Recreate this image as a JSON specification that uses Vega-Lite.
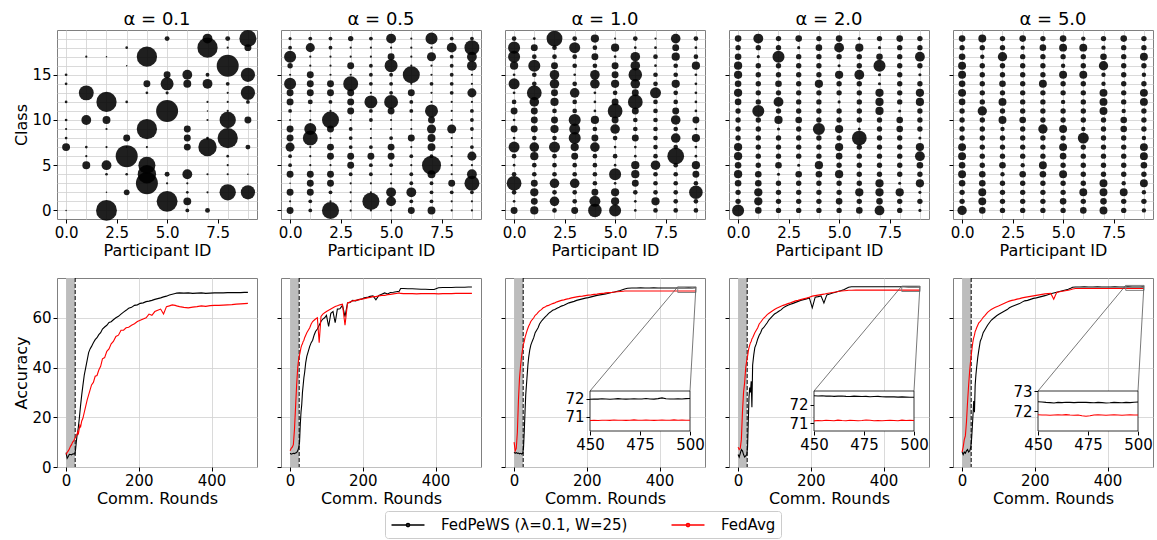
{
"$schema": "https://vega.github.io/schema/vega-lite/v6.json",
"background": "white",
"padding": {"left": 13, "top": 10, "right": 0, "bottom": 0},
"config": {
 "font": "DejaVu Sans",
 "view": {"stroke": "#808080", "strokeWidth": 1},
 "axis": {"labelFont": "DejaVu Sans", "titleFont": "DejaVu Sans", "labelFontSize": 15, "titleFontSize": 16, "titleFontWeight": "normal", "labelColor": "#000", "titleColor": "#000", "tickColor": "#000", "tickSize": 4, "tickWidth": 1, "labelPadding": 2, "titlePadding": 2, "domain": false, "gridColor": "#d0d0d0", "gridWidth": 0.8, "labelFlush": false, "labelOverlap": false},
 "title": {"font": "DejaVu Sans", "fontSize": 18, "fontWeight": "normal", "color": "#000", "offset": 1},
 "legend": {"orient": "none", "legendX": 328, "legendY": 481, "direction": "horizontal", "symbolType": "M-2,0L2,0M0.2,0A0.2,0.2,0,1,1,-0.2,0A0.2,0.2,0,1,1,0.2,0", "symbolSize": 272, "symbolOffset": 9, "symbolStrokeWidth": 1.3, "labelFont": "DejaVu Sans", "labelFontSize": 15, "labelColor": "#000", "labelOffset": 24, "labelLimit": 400, "columnPadding": 40, "padding": 5, "strokeColor": "#cccccc", "cornerRadius": 3, "fillColor": "#ffffff"}
},
"datasets": {
 "bub": [
  {"p":"0.1","pid":0,"c":[0,1,2,3,4,5,6,7,8,9,10,11,12,13,14,15,16,17,18,19],"n":[0.5,0,0,0,0,0,0,13,1.5,1,1.5,0,1.5,0,1.5,1.5,0,0,0,0]},
  {"p":"0.1","pid":1,"c":[0,1,2,3,4,5,6,7,8,9,10,11,12,13,14,15,16,17,18,19],"n":[0,0,0,0,0,13,1,1.5,0,0,20,0,0,46,0,0,0,1,0,0]},
  {"p":"0.1","pid":2,"c":[0,1,2,3,4,5,6,7,8,9,10,11,12,13,14,15,16,17,18,19],"n":[90,0,0.5,0,1.5,20,0,1,0,1,13,0,85,0,0,0,0,0.5,0,0]},
  {"p":"0.1","pid":3,"c":[0,1,2,3,4,5,6,7,8,9,10,11,12,13,14,15,16,17,18,19],"n":[0,0,7,0,1.5,0,100,0.5,10,0,0,0,1.5,0,0,0,0.5,0,1.5,0]},
  {"p":"0.1","pid":4,"c":[0,1,2,3,4,5,6,7,8,9,10,11,12,13,14,15,16,17,18,19],"n":[0,0,0,100,70,60,0,1,0,85,0,0,0,1.5,10,0,0,85,0,0]},
  {"p":"0.1","pid":5,"c":[0,1,2,3,4,5,6,7,8,9,10,11,12,13,14,15,16,17,18,19],"n":[0,90,0,1,5,0,0,0,0,0,0,100,0,2,35,10,0,0,0,5]},
  {"p":"0.1","pid":6,"c":[0,1,2,3,4,5,6,7,8,9,10,11,12,13,14,15,16,17,18,19],"n":[3,13,1.5,1,20,0,0,10,10,10,0,0,0,0,13,20,0,0,0,0]},
  {"p":"0.1","pid":7,"c":[0,1,2,3,4,5,6,7,8,9,10,11,12,13,14,15,16,17,18,19],"n":[5,0,1,0,1,0,0,70,1.5,0,1,0.5,1,0,20,3,0,0,85,20]},
  {"p":"0.1","pid":8,"c":[0,1,2,3,4,5,6,7,8,9,10,11,12,13,14,15,16,17,18,19],"n":[0,0,55,0,1,1,1.5,0,85,0,55,1,1,1,3,0,100,0,1,5]},
  {"p":"0.1","pid":9,"c":[0,1,2,3,4,5,6,7,8,9,10,11,12,13,14,15,16,17,18,19],"n":[0,0,42,0,0.5,0,0,5,0,0,10,0,3,42,0,42,0,0,10,60]},
  {"p":"0.5","pid":0,"c":[0,1,2,3,4,5,6,7,8,9,10,11,12,13,14,15,16,17,18,19],"n":[10,1,10,0.5,10,3,3,17,10,10,1,3,10,10,30,1,6,30,3,2]},
  {"p":"0.5","pid":1,"c":[0,1,2,3,4,5,6,7,8,9,10,11,12,13,14,15,16,17,18,19],"n":[3,3,10,10,10,1,1,1,46,30,1,1,5,10,10,10,1,1,17,3]},
  {"p":"0.5","pid":2,"c":[0,1,2,3,4,5,6,7,8,9,10,11,12,13,14,15,16,17,18,19],"n":[60,1,3,10,10,1,10,10,1,10,60,1,3,10,10,1,1,1,3,3]},
  {"p":"0.5","pid":3,"c":[0,1,2,3,4,5,6,7,8,9,10,11,12,13,14,15,16,17,18,19],"n":[1,1,1,1,3,10,10,3,3,3,1,10,10,10,46,1,10,1,1,6]},
  {"p":"0.5","pid":4,"c":[0,1,2,3,4,5,6,7,8,9,10,11,12,13,14,15,16,17,18,19],"n":[1,60,1,1,3,3,10,3,1,1,3,3,35,1,3,3,3,1,1,3]},
  {"p":"0.5","pid":5,"c":[0,1,2,3,4,5,6,7,8,9,10,11,12,13,14,15,16,17,18,19],"n":[1,20,20,1,1,3,10,10,3,1,1,10,40,3,3,3,35,10,1,20]},
  {"p":"0.5","pid":6,"c":[0,1,2,3,4,5,6,7,8,9,10,11,12,13,14,15,16,17,18,19],"n":[10,3,20,3,3,1,3,1,10,1,1,3,3,10,1,60,1,1,1,1]},
  {"p":"0.5","pid":7,"c":[0,1,2,3,4,5,6,7,8,9,10,11,12,13,14,15,16,17,18,19],"n":[13,3,3,3,13,75,3,13,13,17,10,35,1,1,3,1,1,17,1,30]},
  {"p":"0.5","pid":8,"c":[0,1,2,3,4,5,6,7,8,9,10,11,12,13,14,15,16,17,18,19],"n":[1,1,3,10,1,1,1,1,1,17,1,1,1,3,3,3,3,3,20,3]},
  {"p":"0.5","pid":9,"c":[0,1,2,3,4,5,6,7,8,9,10,11,12,13,14,15,16,17,18,19],"n":[1,1,3,46,20,1,17,3,1,3,3,3,1,17,1,1,20,20,46,3]},
  {"p":"1.0","pid":0,"c":[0,1,2,3,4,5,6,7,8,9,10,11,12,13,14,15,16,17,18,19],"n":[10,1.5,4.5,45,4.5,1.5,4.5,25,1.5,10,1.5,10,4.5,1.5,25,1.5,14,30,30,4.5]},
  {"p":"1.0","pid":1,"c":[0,1,2,3,4,5,6,7,8,9,10,11,12,13,14,15,16,17,18,19],"n":[14,10,14,10,4.5,4.5,14,19,4.5,10,10,10,19,45,4.5,4.5,30,4.5,10,1.5]},
  {"p":"1.0","pid":2,"c":[0,1,2,3,4,5,6,7,8,9,10,11,12,13,14,15,16,17,18,19],"n":[4.5,19,4.5,19,4.5,4.5,4.5,25,4.5,14,10,4.5,14,10,19,19,10,4.5,4.5,52]},
  {"p":"1.0","pid":3,"c":[0,1,2,3,4,5,6,7,8,9,10,11,12,13,14,15,16,17,18,19],"n":[10,4.5,4.5,19,4.5,4.5,10,14,30,25,30,4.5,4.5,19,4.5,1.5,4.5,4.5,25,4.5]},
  {"p":"1.0","pid":4,"c":[0,1,2,3,4,5,6,7,8,9,10,11,12,13,14,15,16,17,18,19],"n":[38,25,10,4.5,4.5,4.5,4.5,19,10,4.5,14,1.5,1.5,1.5,19,19,4.5,10,4.5,14]},
  {"p":"1.0","pid":5,"c":[0,1,2,3,4,5,6,7,8,9,10,11,12,13,14,15,16,17,18,19],"n":[30,14,14,1.5,30,1.5,4.5,1.5,4.5,19,10,45,10,4.5,14,10,10,1.5,14,1]},
  {"p":"1.0","pid":6,"c":[0,1,2,3,4,5,6,7,8,9,10,11,12,13,14,15,16,17,18,19],"n":[1.5,1.5,4.5,10,14,14,1.5,1.5,10,4.5,4.5,10,45,10,19,38,19,19,1.5,4.5]},
  {"p":"1.0","pid":7,"c":[0,1,2,3,4,5,6,7,8,9,10,11,12,13,14,15,16,17,18,19],"n":[4.5,14,4.5,4.5,4.5,19,4.5,4.5,4.5,4.5,4.5,4.5,4.5,25,4.5,4.5,1.5,4.5,1.5,1]},
  {"p":"1.0","pid":8,"c":[0,1,2,3,4,5,6,7,8,9,10,11,12,13,14,15,16,17,18,19],"n":[4.5,4.5,4.5,4.5,4.5,4.5,58,4.5,19,4.5,19,10,4.5,4.5,14,4.5,4.5,14,10,19]},
  {"p":"1.0","pid":9,"c":[0,1,2,3,4,5,6,7,8,9,10,11,12,13,14,15,16,17,18,19],"n":[4.5,4.5,38,4.5,10,14,1.5,1.5,14,1.5,10,1.5,1.5,1.5,1.5,1.5,14,4.5,1.5,4.5]},
  {"p":"2.0","pid":0,"c":[0,1,2,3,4,5,6,7,8,9,10,11,12,13,14,15,16,17,18,19],"n":[30,6,6,9,14,9,14,14,6,6,6,6,9,14,9,14,14,9,6,9]},
  {"p":"2.0","pid":1,"c":[0,1,2,3,4,5,6,7,8,9,10,11,12,13,14,15,16,17,18,19],"n":[9,14,14,9,9,6,6,6,6,6,6,30,6,6,6,6,6,2,6,20]},
  {"p":"2.0","pid":2,"c":[0,1,2,3,4,5,6,7,8,9,10,11,12,13,14,15,16,17,18,19],"n":[6,6,6,6,2,9,6,6,6,2,14,6,20,6,9,6,6,30,6,6]},
  {"p":"2.0","pid":3,"c":[0,1,2,3,4,5,6,7,8,9,10,11,12,13,14,15,16,17,18,19],"n":[6,6,6,6,9,2,6,6,6,6,9,6,6,6,6,6,6,6,2,9]},
  {"p":"2.0","pid":4,"c":[0,1,2,3,4,5,6,7,8,9,10,11,12,13,14,15,16,17,18,19],"n":[6,6,6,6,9,14,6,6,6,30,6,6,6,6,14,6,6,6,9,6]},
  {"p":"2.0","pid":5,"c":[0,1,2,3,4,5,6,7,8,9,10,11,12,13,14,15,16,17,18,19],"n":[6,9,6,6,14,6,9,14,6,14,6,6,2,6,6,14,2,6,20,9]},
  {"p":"2.0","pid":6,"c":[0,1,2,3,4,5,6,7,8,9,10,11,12,13,14,15,16,17,18,19],"n":[9,6,14,6,6,6,6,6,45,2,6,6,6,6,6,20,6,6,14,2]},
  {"p":"2.0","pid":7,"c":[0,1,2,3,4,5,6,7,8,9,10,11,12,13,14,15,16,17,18,19],"n":[20,9,14,14,6,6,6,6,6,6,6,14,14,14,2,2,30,9,2,6]},
  {"p":"2.0","pid":8,"c":[0,1,2,3,4,5,6,7,8,9,10,11,12,13,14,15,16,17,18,19],"n":[6,6,14,2,6,6,6,6,6,9,9,2,6,6,6,6,6,6,6,9]},
  {"p":"2.0","pid":9,"c":[0,1,2,3,4,5,6,7,8,9,10,11,12,13,14,15,16,17,18,19],"n":[2,6,2,14,6,9,20,14,2,6,6,6,14,14,6,2,6,20,6,6]},
  {"p":"5.0","pid":0,"c":[0,1,2,3,4,5,6,7,8,9,10,11,12,13,14,15,16,17,18,19],"n":[18,6,6,9,13,9,13,13,6,6,6,6,9,13,9,13,13,9,6,9]},
  {"p":"5.0","pid":1,"c":[0,1,2,3,4,5,6,7,8,9,10,11,12,13,14,15,16,17,18,19],"n":[9,13,13,9,9,6,6,6,6,6,6,18,6,6,6,6,6,4,6,13]},
  {"p":"5.0","pid":2,"c":[0,1,2,3,4,5,6,7,8,9,10,11,12,13,14,15,16,17,18,19],"n":[6,6,6,6,4,9,6,6,6,4,13,6,13,6,9,6,6,18,6,6]},
  {"p":"5.0","pid":3,"c":[0,1,2,3,4,5,6,7,8,9,10,11,12,13,14,15,16,17,18,19],"n":[6,6,6,6,9,4,6,6,6,6,9,6,6,6,6,6,6,6,4,9]},
  {"p":"5.0","pid":4,"c":[0,1,2,3,4,5,6,7,8,9,10,11,12,13,14,15,16,17,18,19],"n":[6,6,6,6,9,13,6,6,6,18,6,6,6,6,13,6,6,6,9,6]},
  {"p":"5.0","pid":5,"c":[0,1,2,3,4,5,6,7,8,9,10,11,12,13,14,15,16,17,18,19],"n":[6,9,6,6,13,6,9,13,6,13,6,6,4,6,6,13,4,6,13,9]},
  {"p":"5.0","pid":6,"c":[0,1,2,3,4,5,6,7,8,9,10,11,12,13,14,15,16,17,18,19],"n":[9,6,13,6,6,6,6,6,25,4,6,6,6,6,6,13,6,6,13,4]},
  {"p":"5.0","pid":7,"c":[0,1,2,3,4,5,6,7,8,9,10,11,12,13,14,15,16,17,18,19],"n":[13,9,13,13,6,6,6,6,6,6,6,13,13,13,4,4,18,9,4,6]},
  {"p":"5.0","pid":8,"c":[0,1,2,3,4,5,6,7,8,9,10,11,12,13,14,15,16,17,18,19],"n":[6,6,13,4,6,6,6,6,6,9,9,4,6,6,6,6,6,6,6,9]},
  {"p":"5.0","pid":9,"c":[0,1,2,3,4,5,6,7,8,9,10,11,12,13,14,15,16,17,18,19],"n":[4,6,4,13,6,9,13,13,4,6,6,6,13,13,6,4,6,13,6,6]}
 ],
 "acc": [
  {"p":"0.1","s":"FedPeWS (λ=0.1, W=25)","r":[0,3,6,9,12,15,18,21,24,26,28,30,32,34,36,38,40,43,46,50,54,58,62,66,70,75,80,85,90,95,100,106,112,118,124,130,137,144,151,158,165,172,180,188,196,204,212,220,228,236,244,252,260,268,276,284,292,300,304,312,324,336,348,360,372,384,396,408,420,432,444,456,468,480,490,500],"a":[5.8,3.5,4.2,5.1,5.0,4.9,5.2,5.3,5.2,7,10,12.5,14,16.5,19,22,25,29,32.5,37,40,43,46,47.5,48.5,50,51.2,52,53.2,54,55.5,56.3,57,58.1,58.4,59.2,60,60.6,61.5,62.3,63,63.8,64.2,65,65.2,65.8,66,66.5,66.7,67,67.4,67.7,68,68.4,68.7,69.2,69.5,69.8,69.9,70,69.9,70,69.8,69.9,70,69.8,69.9,70,70,70,70.1,70.1,70.1,70.1,70.2,70.2]},
  {"p":"0.1","s":"FedAvg","r":[0,3,6,9,12,15,18,21,24,26,28,30,32,34,36,38,40,43,46,50,54,58,62,66,70,75,80,85,90,95,100,106,112,118,124,130,137,144,151,158,165,172,180,188,196,204,212,220,228,236,244,252,260,268,276,284,292,300,304,312,324,336,348,360,372,384,396,408,420,432,444,456,468,480,490,500],"a":[5,5.8,6.5,7.2,8.3,9,10,10.5,11.5,12,12.8,13,14.2,13.5,15.2,16.8,16.2,18.5,19.5,22,24.5,27,29,31,33,34,36.5,36.8,39,40.5,43.5,44,46.5,47.5,49.5,50.5,52.5,53,55,55,56,56.2,57,57.6,58.5,59,59.5,60,61.5,61,62.5,63,63.5,61.5,64.5,64.8,65.2,65,64.8,64.5,64.2,64,64.3,64.5,64.8,64.6,64.9,65,65,65.1,65.2,65.3,65.5,65.6,65.7,65.8]},
  {"p":"0.5","s":"FedPeWS (λ=0.1, W=25)","r":[0,3,6,9,12,15,18,21,24,26,28,30,32,34,36,38,40,43,46,50,54,58,62,66,70,75,80,85,90,95,100,106,112,118,124,130,137,144,151,158,165,172,180,188,196,204,212,220,228,236,244,252,260,268,276,284,292,300,304,312,324,336,348,360,372,384,396,408,420,432,444,456,468,480,490,500],"a":[5.5,5.2,5.3,5.5,5.4,5.6,5.8,6.5,8,10,17,22,25,30,33,36,38,42,44.5,46.5,48.5,50,51,53,54.5,55.5,57,58.5,59.5,60,61,56.5,61.8,62.5,58,63.5,63.6,65,60.5,66,66.2,67,66.8,67.3,67.5,68,68.2,68.6,68.8,67.2,69,69.5,70,69.6,70.2,70.3,70.5,70.7,71.8,71.8,71.7,71.7,71.6,71.5,71.5,71.4,71.4,72.1,72.2,72.2,72.2,72.3,72.3,72.3,72.4,72.4]},
  {"p":"0.5","s":"FedAvg","r":[0,3,6,9,12,15,18,21,24,26,28,30,32,34,36,38,40,43,46,50,54,58,62,66,70,75,80,85,90,95,100,106,112,118,124,130,137,144,151,158,165,172,180,188,196,204,212,220,228,236,244,252,260,268,276,284,292,300,304,312,324,336,348,360,372,384,396,408,420,432,444,456,468,480,490,500],"a":[6.5,7.5,8,9,15,24,33,40,44,45,46.5,48,49,49.5,50.5,51,52,53,54,55,56,57.5,58.5,59,59.5,60,50,60.5,61.5,62,62.5,63,63.5,64,64.5,64.8,65.2,65.5,57,66,66.3,66.8,67,67.2,67.5,67.7,68,68.2,68.5,68.5,68.8,69,69,69.3,69.4,69.6,69.8,70,69.8,69.7,69.7,69.7,69.6,69.7,69.7,69.7,69.7,69.6,69.7,69.7,69.7,69.8,69.8,69.8,69.8,69.8]},
  {"p":"1.0","s":"FedPeWS (λ=0.1, W=25)","r":[0,3,6,9,12,15,18,21,24,26,28,30,32,34,36,38,40,43,46,50,54,58,62,66,70,75,80,85,90,95,100,106,112,118,124,130,137,144,151,158,165,172,180,188,196,204,212,220,228,236,244,252,260,268,276,284,292,300,304,312,324,336,348,360,372,384,396,408,420,432,444,456,468,480,490,500],"a":[6,5.5,5.8,5.5,5.6,5.3,5.5,5.2,5.5,8,14.5,22,29,33,37,41,44,47,49,50.6,52,54,55,56,57.5,58.6,59.5,60.3,61,61.8,62.3,63,63.3,63.8,64.2,64.7,65,65.5,66,66.3,66.6,67,67.3,67.6,67.9,68.1,68.4,68.7,69,69.2,69.4,69.6,69.9,70.2,70.4,70.7,71,71.4,71.6,71.9,72,72,72.1,72,72,72.1,72,72,72,72,72,72,72,72.05,72,72.05]},
  {"p":"1.0","s":"FedAvg","r":[0,3,6,9,12,15,18,21,24,26,28,30,32,34,36,38,40,43,46,50,54,58,62,66,70,75,80,85,90,95,100,106,112,118,124,130,137,144,151,158,165,172,180,188,196,204,212,220,228,236,244,252,260,268,276,284,292,300,304,312,324,336,348,360,372,384,396,408,420,432,444,456,468,480,490,500],"a":[10,6.5,7.5,14,27,36,41,45,48,49.5,50.5,52,53,54,55,55.8,56.6,57.5,58.5,59.3,60,61,61.5,62.2,62.8,63.3,64,64.3,64.8,65,65.3,65.7,66,66.4,66.7,67,67.2,67.5,67.7,68,68.2,68.4,68.6,68.7,68.9,69.1,69.2,69.4,69.5,69.7,69.8,70,70.1,70.2,70.4,70.5,70.6,70.7,70.75,70.8,70.8,70.8,70.8,70.8,70.8,70.8,70.8,70.8,70.8,70.8,70.8,70.8,70.8,70.8,70.8,70.8]},
  {"p":"2.0","s":"FedPeWS (λ=0.1, W=25)","r":[0,3,6,9,12,15,18,21,24,26,28,30,32,34,36,38,40,43,46,50,54,58,62,66,70,75,80,85,90,95,100,106,112,118,124,130,137,144,151,158,165,172,180,188,196,204,212,220,228,236,244,252,260,268,276,284,292,300,304,312,324,336,348,360,372,384,396,408,420,432,444,456,468,480,490,500],"a":[5,4,5.5,7,6.5,5,4,4.5,5,8,18,28,32,30,34.5,24,41,45,48,49.5,51.5,53,54,55.5,56,57,58,59.2,60,60.8,61.5,62,62.6,63.2,64,64.5,65,65.4,65.8,66.2,66.6,67,67.3,67.6,68,64,68.3,68.5,68.8,66,69.2,69.6,70,70.3,70.7,71,71.4,72,72.3,72.5,72.5,72.5,72.5,72.5,72.5,72.5,72.5,72.5,72.5,72.5,72.5,72.47,72.45,72.45,72.42,72.4]},
  {"p":"2.0","s":"FedAvg","r":[0,3,6,9,12,15,18,21,24,26,28,30,32,34,36,38,40,43,46,50,54,58,62,66,70,75,80,85,90,95,100,106,112,118,124,130,137,144,151,158,165,172,180,188,196,204,212,220,228,236,244,252,260,268,276,284,292,300,304,312,324,336,348,360,372,384,396,408,420,432,444,456,468,480,490,500],"a":[8,7,7.5,11,22,30,34,40,43,44.5,46.5,48,49,50,50.5,51.5,52,53,54,55,56,57.5,58.2,59,59.8,60.5,61.3,61.8,62.3,62.8,63.3,63.8,64.2,64.6,65,65.3,65.7,66,66.4,66.8,67,67.3,67.6,67.9,68.3,68.7,68.9,69.1,69.3,69.5,69.8,70,70.2,70.4,70.6,70.8,70.9,71,71.05,71.1,71.12,71.14,71.14,71.14,71.14,71.14,71.14,71.14,71.14,71.14,71.14,71.14,71.14,71.14,71.14,71.14]},
  {"p":"5.0","s":"FedPeWS (λ=0.1, W=25)","r":[0,3,6,9,12,15,18,21,24,26,28,30,32,34,36,38,40,43,46,50,54,58,62,66,70,75,80,85,90,95,100,106,112,118,124,130,137,144,151,158,165,172,180,188,196,204,212,220,228,236,244,252,260,268,276,284,292,300,304,312,324,336,348,360,372,384,396,408,420,432,444,456,468,480,490,500],"a":[6,5,6,5.5,6.5,7,6,6.5,8,11,15.8,21,26.5,22,33,37,40,44,47,50.6,52,54,55,56,57,58,59,59.6,60.2,60.8,61.3,61.8,62.3,62.8,63.3,64,64.5,64.9,65.3,65.7,66.3,66.8,67,67.4,67.8,68,68.3,68.6,68.9,69.3,69.7,70,70.3,70.6,70.9,71.2,71.5,72,72.3,72.4,72.4,72.45,72.4,72.4,72.45,72.4,72.4,72.4,72.45,72.4,72.4,72.45,72.4,72.4,72.4,72.45]},
  {"p":"5.0","s":"FedAvg","r":[0,3,6,9,12,15,18,21,24,26,28,30,32,34,36,38,40,43,46,50,54,58,62,66,70,75,80,85,90,95,100,106,112,118,124,130,137,144,151,158,165,172,180,188,196,204,212,220,228,236,244,252,260,268,276,284,292,300,304,312,324,336,348,360,372,384,396,408,420,432,444,456,468,480,490,500],"a":[6,8,11,12.5,18,26,33,39,43.5,46,48.5,50.6,52,53,54.5,55.2,56,57,58,58.6,59.3,60.2,60.8,61.5,62.2,62.8,63.3,63.7,64.1,64.4,64.7,65.1,65.5,65.9,66.3,66.7,67,67.2,67.5,67.7,68,68.2,68.4,68.6,68.8,69,69.2,69.4,69.6,69.7,69.8,67.5,70.2,70.5,70.7,70.9,71.1,71.4,71.6,71.8,71.8,71.8,71.8,71.8,71.8,71.8,71.8,71.8,71.8,71.8,71.8,71.8,71.8,71.8,71.8,71.8]}
 ],
 "ins": [
  {"p":"1.0","s":"FedPeWS (λ=0.1, W=25)","r":[450,452,454,456,458,460,462,464,466,468,470,472,474,476,478,480,482,484,486,488,490,492,494,496,498,500],"a":[71.98,72.0,71.99,72.01,72.0,71.98,72.0,72.02,72.0,71.99,72.0,72.01,72.0,72.0,72.03,72.0,71.99,72.02,72.06,72.01,72.0,72.0,72.01,72.0,72.02,72.03]},
  {"p":"1.0","s":"FedAvg","r":[450,452,454,456,458,460,462,464,466,468,470,472,474,476,478,480,482,484,486,488,490,492,494,496,498,500],"a":[70.78,70.79,70.78,70.8,70.8,70.79,70.81,70.8,70.8,70.79,70.8,70.82,70.8,70.8,70.81,70.8,70.79,70.8,70.81,70.8,70.8,70.82,70.8,70.81,70.8,70.8]},
  {"p":"2.0","s":"FedPeWS (λ=0.1, W=25)","r":[450,452,454,456,458,460,462,464,466,468,470,472,474,476,478,480,482,484,486,488,490,492,494,496,498,500],"a":[72.48,72.47,72.48,72.46,72.47,72.45,72.46,72.47,72.45,72.44,72.46,72.45,72.44,72.45,72.43,72.44,72.45,72.43,72.42,72.43,72.42,72.41,72.42,72.41,72.4,72.4]},
  {"p":"2.0","s":"FedAvg","r":[450,452,454,456,458,460,462,464,466,468,470,472,474,476,478,480,482,484,486,488,490,492,494,496,498,500],"a":[71.12,71.14,71.13,71.15,71.14,71.13,71.16,71.14,71.13,71.15,71.14,71.13,71.14,71.17,71.15,71.13,71.14,71.13,71.14,71.15,71.14,71.13,71.16,71.14,71.15,71.14]},
  {"p":"5.0","s":"FedPeWS (λ=0.1, W=25)","r":[450,452,454,456,458,460,462,464,466,468,470,472,474,476,478,480,482,484,486,488,490,492,494,496,498,500],"a":[72.48,72.47,72.45,72.44,72.42,72.45,72.44,72.46,72.45,72.44,72.45,72.46,72.45,72.44,72.43,72.45,72.44,72.42,72.43,72.45,72.44,72.43,72.45,72.44,72.46,72.47]},
  {"p":"5.0","s":"FedAvg","r":[450,452,454,456,458,460,462,464,466,468,470,472,474,476,478,480,482,484,486,488,490,492,494,496,498,500],"a":[71.83,71.82,71.82,71.81,71.82,71.83,71.82,71.84,71.82,71.81,71.82,71.78,71.76,71.78,71.82,71.83,71.82,71.81,71.82,71.83,71.82,71.81,71.82,71.83,71.82,71.82]}
 ],
 "box": [
  {"p":"1.0","x0":450,"x1":500,"y0":70.19,"y1":72.45},
  {"p":"2.0","x0":450,"x1":500,"y0":70.57,"y1":72.74},
  {"p":"5.0","x0":450,"x1":500,"y0":71.02,"y1":73.02}
 ],
 "conn": [
  {"p":"1.0","x":208.75,"y":30.56,"x2":450,"y2":72.45},
  {"p":"1.0","x":483.75,"y":30.56,"x2":500,"y2":72.45},
  {"p":"2.0","x":208.75,"y":30.56,"x2":450,"y2":72.74},
  {"p":"2.0","x":483.75,"y":30.56,"x2":500,"y2":72.74},
  {"p":"5.0","x":208.75,"y":30.56,"x2":450,"y2":73.02},
  {"p":"5.0","x":483.75,"y":30.56,"x2":500,"y2":73.02}
 ]
},
"spacing": 18,
"vconcat": [
 {"hconcat": [
  {"width": 200, "height": 189, "title": "α = 0.1", "data": {"name": "bub"},
   "transform": [{"filter": "datum.p === '0.1'"}, {"flatten": ["c", "n"]}],
   "mark": {"type": "circle", "color": "#000000", "opacity": 0.88},
   "encoding": {
    "x": {"field": "pid", "type": "quantitative", "scale": {"domain": [-0.45, 9.45], "nice": false, "zero": false},
          "axis": {"title": "Participant ID", "values": [0,1,2,2.5,3,4,5,6,7,7.5,8,9], "labelExpr": "datum.value % 2.5 === 0 ? format(datum.value, '.1f') : ''", "tickOpacity": {"condition": {"test": "datum.value % 2.5 === 0", "value": 1}, "value": 0}, "gridOpacity": {"condition": {"test": "datum.value % 1 === 0", "value": 1}, "value": 0}}},
    "y": {"field": "c", "type": "quantitative", "scale": {"domain": [-0.95, 19.95], "nice": false, "zero": false},
          "axis": {"title": "Class", "values": [0,1,2,3,4,5,6,7,8,9,10,11,12,13,14,15,16,17,18,19], "labelExpr": "datum.value % 5 === 0 ? datum.label : ''", "tickOpacity": {"condition": {"test": "datum.value % 5 === 0", "value": 1}, "value": 0}}},
    "size": {"field": "n", "type": "quantitative", "scale": {"domain": [0, 100], "range": [0, 484]}, "legend": null}
   }},
  {"width": 200, "height": 189, "title": "α = 0.5", "data": {"name": "bub"},
   "transform": [{"filter": "datum.p === '0.5'"}, {"flatten": ["c", "n"]}],
   "mark": {"type": "circle", "color": "#000000", "opacity": 0.88},
   "encoding": {
    "x": {"field": "pid", "type": "quantitative", "scale": {"domain": [-0.45, 9.45], "nice": false, "zero": false},
          "axis": {"title": "Participant ID", "values": [0,1,2,2.5,3,4,5,6,7,7.5,8,9], "labelExpr": "datum.value % 2.5 === 0 ? format(datum.value, '.1f') : ''", "tickOpacity": {"condition": {"test": "datum.value % 2.5 === 0", "value": 1}, "value": 0}, "gridOpacity": {"condition": {"test": "datum.value % 1 === 0", "value": 1}, "value": 0}}},
    "y": {"field": "c", "type": "quantitative", "scale": {"domain": [-0.95, 19.95], "nice": false, "zero": false},
          "axis": {"title": null, "labels": false, "values": [0,1,2,3,4,5,6,7,8,9,10,11,12,13,14,15,16,17,18,19], "tickOpacity": {"condition": {"test": "datum.value % 5 === 0", "value": 1}, "value": 0}}},
    "size": {"field": "n", "type": "quantitative", "scale": {"domain": [0, 100], "range": [0, 484]}, "legend": null}
   }},
  {"width": 200, "height": 189, "title": "α = 1.0", "data": {"name": "bub"},
   "transform": [{"filter": "datum.p === '1.0'"}, {"flatten": ["c", "n"]}],
   "mark": {"type": "circle", "color": "#000000", "opacity": 0.88},
   "encoding": {
    "x": {"field": "pid", "type": "quantitative", "scale": {"domain": [-0.45, 9.45], "nice": false, "zero": false},
          "axis": {"title": "Participant ID", "values": [0,1,2,2.5,3,4,5,6,7,7.5,8,9], "labelExpr": "datum.value % 2.5 === 0 ? format(datum.value, '.1f') : ''", "tickOpacity": {"condition": {"test": "datum.value % 2.5 === 0", "value": 1}, "value": 0}, "gridOpacity": {"condition": {"test": "datum.value % 1 === 0", "value": 1}, "value": 0}}},
    "y": {"field": "c", "type": "quantitative", "scale": {"domain": [-0.95, 19.95], "nice": false, "zero": false},
          "axis": {"title": null, "labels": false, "values": [0,1,2,3,4,5,6,7,8,9,10,11,12,13,14,15,16,17,18,19], "tickOpacity": {"condition": {"test": "datum.value % 5 === 0", "value": 1}, "value": 0}}},
    "size": {"field": "n", "type": "quantitative", "scale": {"domain": [0, 100], "range": [0, 484]}, "legend": null}
   }},
  {"width": 200, "height": 189, "title": "α = 2.0", "data": {"name": "bub"},
   "transform": [{"filter": "datum.p === '2.0'"}, {"flatten": ["c", "n"]}],
   "mark": {"type": "circle", "color": "#000000", "opacity": 0.88},
   "encoding": {
    "x": {"field": "pid", "type": "quantitative", "scale": {"domain": [-0.45, 9.45], "nice": false, "zero": false},
          "axis": {"title": "Participant ID", "values": [0,1,2,2.5,3,4,5,6,7,7.5,8,9], "labelExpr": "datum.value % 2.5 === 0 ? format(datum.value, '.1f') : ''", "tickOpacity": {"condition": {"test": "datum.value % 2.5 === 0", "value": 1}, "value": 0}, "gridOpacity": {"condition": {"test": "datum.value % 1 === 0", "value": 1}, "value": 0}}},
    "y": {"field": "c", "type": "quantitative", "scale": {"domain": [-0.95, 19.95], "nice": false, "zero": false},
          "axis": {"title": null, "labels": false, "values": [0,1,2,3,4,5,6,7,8,9,10,11,12,13,14,15,16,17,18,19], "tickOpacity": {"condition": {"test": "datum.value % 5 === 0", "value": 1}, "value": 0}}},
    "size": {"field": "n", "type": "quantitative", "scale": {"domain": [0, 100], "range": [0, 484]}, "legend": null}
   }},
  {"width": 200, "height": 189, "title": "α = 5.0", "data": {"name": "bub"},
   "transform": [{"filter": "datum.p === '5.0'"}, {"flatten": ["c", "n"]}],
   "mark": {"type": "circle", "color": "#000000", "opacity": 0.88},
   "encoding": {
    "x": {"field": "pid", "type": "quantitative", "scale": {"domain": [-0.45, 9.45], "nice": false, "zero": false},
          "axis": {"title": "Participant ID", "values": [0,1,2,2.5,3,4,5,6,7,7.5,8,9], "labelExpr": "datum.value % 2.5 === 0 ? format(datum.value, '.1f') : ''", "tickOpacity": {"condition": {"test": "datum.value % 2.5 === 0", "value": 1}, "value": 0}, "gridOpacity": {"condition": {"test": "datum.value % 1 === 0", "value": 1}, "value": 0}}},
    "y": {"field": "c", "type": "quantitative", "scale": {"domain": [-0.95, 19.95], "nice": false, "zero": false},
          "axis": {"title": null, "labels": false, "values": [0,1,2,3,4,5,6,7,8,9,10,11,12,13,14,15,16,17,18,19], "tickOpacity": {"condition": {"test": "datum.value % 5 === 0", "value": 1}, "value": 0}}},
    "size": {"field": "n", "type": "quantitative", "scale": {"domain": [0, 100], "range": [0, 484]}, "legend": null}
   }}
 ], "spacing": 24, "bounds": "flush"},
 {"hconcat": [
  {"width": 200, "height": 189,
   "layer": [
    {"data": {"values": [{"x0": 0, "x1": 25}]}, "mark": {"type": "rect", "color": "#bdbdbd"},
     "encoding": {"x": {"field": "x0", "type": "quantitative", "scale": {"domain": [-25, 525], "nice": false, "zero": false}, "axis": {"values": [0, 200, 400], "title": "Comm. Rounds"}}, "x2": {"field": "x1"}}},
    {"data": {"values": [{"x0": 25}]}, "mark": {"type": "rule", "color": "#000", "strokeDash": [4, 2], "strokeWidth": 1},
     "encoding": {"x": {"field": "x0", "type": "quantitative", "scale": {"domain": [-25, 525], "nice": false, "zero": false}, "axis": {"values": [0, 200, 400], "title": "Comm. Rounds"}}}},
    {"data": {"name": "acc"}, "transform": [{"filter": "datum.p === '0.1'"}, {"flatten": ["r", "a"]}],
     "mark": {"type": "line", "strokeWidth": 1.1},
     "encoding": {
      "x": {"field": "r", "type": "quantitative", "scale": {"domain": [-25, 525], "nice": false, "zero": false}, "axis": {"values": [0, 200, 400], "title": "Comm. Rounds"}},
      "y": {"field": "a", "type": "quantitative", "scale": {"domain": [0, 76], "nice": false, "zero": false}, "axis": {"values": [0, 20, 40, 60], "title": "Accuracy"}},
      "color": {"field": "s", "type": "nominal", "scale": {"domain": ["FedPeWS (λ=0.1, W=25)", "FedAvg"], "range": ["#000000", "#ff0000"]}, "legend": {"title": null}}
     }}
   ]},
  {"width": 200, "height": 189,
   "layer": [
    {"data": {"values": [{"x0": 0, "x1": 25}]}, "mark": {"type": "rect", "color": "#bdbdbd"},
     "encoding": {"x": {"field": "x0", "type": "quantitative", "scale": {"domain": [-25, 525], "nice": false, "zero": false}, "axis": {"values": [0, 200, 400], "title": "Comm. Rounds"}}, "x2": {"field": "x1"}}},
    {"data": {"values": [{"x0": 25}]}, "mark": {"type": "rule", "color": "#000", "strokeDash": [4, 2], "strokeWidth": 1},
     "encoding": {"x": {"field": "x0", "type": "quantitative", "scale": {"domain": [-25, 525], "nice": false, "zero": false}, "axis": {"values": [0, 200, 400], "title": "Comm. Rounds"}}}},
    {"data": {"name": "acc"}, "transform": [{"filter": "datum.p === '0.5'"}, {"flatten": ["r", "a"]}],
     "mark": {"type": "line", "strokeWidth": 1.1},
     "encoding": {
      "x": {"field": "r", "type": "quantitative", "scale": {"domain": [-25, 525], "nice": false, "zero": false}, "axis": {"values": [0, 200, 400], "title": "Comm. Rounds"}},
      "y": {"field": "a", "type": "quantitative", "scale": {"domain": [0, 76], "nice": false, "zero": false}, "axis": {"values": [0, 20, 40, 60], "title": null, "labels": false}},
      "color": {"field": "s", "type": "nominal", "scale": {"domain": ["FedPeWS (λ=0.1, W=25)", "FedAvg"], "range": ["#000000", "#ff0000"]}, "legend": {"title": null}}
     }}
   ]},
  {"width": 200, "height": 189,
   "layer": [
    {"layer": [
     {"data": {"values": [{"x0": 0, "x1": 25}]}, "mark": {"type": "rect", "color": "#bdbdbd"},
      "encoding": {"x": {"field": "x0", "type": "quantitative", "scale": {"domain": [-25, 525], "nice": false, "zero": false}, "axis": {"values": [0, 200, 400], "title": "Comm. Rounds"}}, "x2": {"field": "x1"}}},
     {"data": {"values": [{"x0": 25}]}, "mark": {"type": "rule", "color": "#000", "strokeDash": [4, 2], "strokeWidth": 1},
      "encoding": {"x": {"field": "x0", "type": "quantitative", "scale": {"domain": [-25, 525], "nice": false, "zero": false}, "axis": {"values": [0, 200, 400], "title": "Comm. Rounds"}}}},
     {"data": {"name": "acc"}, "transform": [{"filter": "datum.p === '1.0'"}, {"flatten": ["r", "a"]}],
      "mark": {"type": "line", "strokeWidth": 1.1},
      "encoding": {
       "x": {"field": "r", "type": "quantitative", "scale": {"domain": [-25, 525], "nice": false, "zero": false}, "axis": {"values": [0, 200, 400], "title": "Comm. Rounds"}},
       "y": {"field": "a", "type": "quantitative", "scale": {"domain": [0, 76], "nice": false, "zero": false}, "axis": {"values": [0, 20, 40, 60], "title": null, "labels": false}},
       "color": {"field": "s", "type": "nominal", "scale": {"domain": ["FedPeWS (λ=0.1, W=25)", "FedAvg"], "range": ["#000000", "#ff0000"]}, "legend": {"title": null}}
      }},
     {"data": {"name": "box"}, "transform": [{"filter": "datum.p === '1.0'"}],
      "mark": {"type": "rect", "fill": "transparent", "stroke": "#808080", "strokeWidth": 1},
      "encoding": {
       "x": {"field": "x0", "type": "quantitative", "scale": {"domain": [-25, 525], "nice": false, "zero": false}, "axis": {"values": [0, 200, 400], "title": "Comm. Rounds"}}, "x2": {"field": "x1"},
       "y": {"field": "y0", "type": "quantitative", "scale": {"domain": [0, 76], "nice": false, "zero": false}, "axis": {"values": [0, 20, 40, 60], "title": null, "labels": false}}, "y2": {"field": "y1"}}},
     {"data": {"name": "conn"}, "transform": [{"filter": "datum.p === '1.0'"}],
      "mark": {"type": "rule", "color": "#555555", "strokeWidth": 0.8},
      "encoding": {
       "x": {"field": "x", "type": "quantitative", "scale": {"domain": [-25, 525], "nice": false, "zero": false}, "axis": {"values": [0, 200, 400], "title": "Comm. Rounds"}}, "x2": {"field": "x2"},
       "y": {"field": "y", "type": "quantitative", "scale": {"domain": [0, 76], "nice": false, "zero": false}, "axis": {"values": [0, 20, 40, 60], "title": null, "labels": false}}, "y2": {"field": "y2"}}}
    ]},
    {"layer": [
     {"data": {"name": "box"}, "transform": [{"filter": "datum.p === '1.0'"}],
      "mark": {"type": "rect", "fill": "#ffffff", "stroke": "#000000", "strokeWidth": 0.8},
      "encoding": {
       "x": {"field": "x0", "type": "quantitative", "scale": {"domain": [450, 500], "range": [85, 185], "nice": false, "zero": false}, "axis": {"orient": "bottom", "offset": -36, "values": [450, 475, 500], "grid": false, "title": null}}, "x2": {"field": "x1"},
       "y": {"field": "y0", "type": "quantitative", "scale": {"domain": [70.19, 72.45], "range": [153, 113], "nice": false, "zero": false}, "axis": {"orient": "left", "offset": -85, "values": [71, 72], "grid": false, "title": null}}, "y2": {"field": "y1"}}},
     {"data": {"name": "ins"}, "transform": [{"filter": "datum.p === '1.0'"}, {"flatten": ["r", "a"]}],
      "mark": {"type": "line", "strokeWidth": 1.1},
      "encoding": {
       "x": {"field": "r", "type": "quantitative", "scale": {"domain": [450, 500], "range": [85, 185], "nice": false, "zero": false}, "axis": {"orient": "bottom", "offset": -36, "values": [450, 475, 500], "grid": false, "title": null}},
       "y": {"field": "a", "type": "quantitative", "scale": {"domain": [70.19, 72.45], "range": [153, 113], "nice": false, "zero": false}, "axis": {"orient": "left", "offset": -85, "values": [71, 72], "grid": false, "title": null}},
       "color": {"field": "s", "type": "nominal", "scale": {"domain": ["FedPeWS (λ=0.1, W=25)", "FedAvg"], "range": ["#000000", "#ff0000"]}, "legend": {"title": null}}
      }}
    ]}
   ],
   "resolve": {"scale": {"x": "independent", "y": "independent"}}},
  {"width": 200, "height": 189,
   "layer": [
    {"layer": [
     {"data": {"values": [{"x0": 0, "x1": 25}]}, "mark": {"type": "rect", "color": "#bdbdbd"},
      "encoding": {"x": {"field": "x0", "type": "quantitative", "scale": {"domain": [-25, 525], "nice": false, "zero": false}, "axis": {"values": [0, 200, 400], "title": "Comm. Rounds"}}, "x2": {"field": "x1"}}},
     {"data": {"values": [{"x0": 25}]}, "mark": {"type": "rule", "color": "#000", "strokeDash": [4, 2], "strokeWidth": 1},
      "encoding": {"x": {"field": "x0", "type": "quantitative", "scale": {"domain": [-25, 525], "nice": false, "zero": false}, "axis": {"values": [0, 200, 400], "title": "Comm. Rounds"}}}},
     {"data": {"name": "acc"}, "transform": [{"filter": "datum.p === '2.0'"}, {"flatten": ["r", "a"]}],
      "mark": {"type": "line", "strokeWidth": 1.1},
      "encoding": {
       "x": {"field": "r", "type": "quantitative", "scale": {"domain": [-25, 525], "nice": false, "zero": false}, "axis": {"values": [0, 200, 400], "title": "Comm. Rounds"}},
       "y": {"field": "a", "type": "quantitative", "scale": {"domain": [0, 76], "nice": false, "zero": false}, "axis": {"values": [0, 20, 40, 60], "title": null, "labels": false}},
       "color": {"field": "s", "type": "nominal", "scale": {"domain": ["FedPeWS (λ=0.1, W=25)", "FedAvg"], "range": ["#000000", "#ff0000"]}, "legend": {"title": null}}
      }},
     {"data": {"name": "box"}, "transform": [{"filter": "datum.p === '2.0'"}],
      "mark": {"type": "rect", "fill": "transparent", "stroke": "#808080", "strokeWidth": 1},
      "encoding": {
       "x": {"field": "x0", "type": "quantitative", "scale": {"domain": [-25, 525], "nice": false, "zero": false}, "axis": {"values": [0, 200, 400], "title": "Comm. Rounds"}}, "x2": {"field": "x1"},
       "y": {"field": "y0", "type": "quantitative", "scale": {"domain": [0, 76], "nice": false, "zero": false}, "axis": {"values": [0, 20, 40, 60], "title": null, "labels": false}}, "y2": {"field": "y1"}}},
     {"data": {"name": "conn"}, "transform": [{"filter": "datum.p === '2.0'"}],
      "mark": {"type": "rule", "color": "#555555", "strokeWidth": 0.8},
      "encoding": {
       "x": {"field": "x", "type": "quantitative", "scale": {"domain": [-25, 525], "nice": false, "zero": false}, "axis": {"values": [0, 200, 400], "title": "Comm. Rounds"}}, "x2": {"field": "x2"},
       "y": {"field": "y", "type": "quantitative", "scale": {"domain": [0, 76], "nice": false, "zero": false}, "axis": {"values": [0, 20, 40, 60], "title": null, "labels": false}}, "y2": {"field": "y2"}}}
    ]},
    {"layer": [
     {"data": {"name": "box"}, "transform": [{"filter": "datum.p === '2.0'"}],
      "mark": {"type": "rect", "fill": "#ffffff", "stroke": "#000000", "strokeWidth": 0.8},
      "encoding": {
       "x": {"field": "x0", "type": "quantitative", "scale": {"domain": [450, 500], "range": [85, 185], "nice": false, "zero": false}, "axis": {"orient": "bottom", "offset": -36, "values": [450, 475, 500], "grid": false, "title": null}}, "x2": {"field": "x1"},
       "y": {"field": "y0", "type": "quantitative", "scale": {"domain": [70.57, 72.74], "range": [153, 113], "nice": false, "zero": false}, "axis": {"orient": "left", "offset": -85, "values": [71, 72], "grid": false, "title": null}}, "y2": {"field": "y1"}}},
     {"data": {"name": "ins"}, "transform": [{"filter": "datum.p === '2.0'"}, {"flatten": ["r", "a"]}],
      "mark": {"type": "line", "strokeWidth": 1.1},
      "encoding": {
       "x": {"field": "r", "type": "quantitative", "scale": {"domain": [450, 500], "range": [85, 185], "nice": false, "zero": false}, "axis": {"orient": "bottom", "offset": -36, "values": [450, 475, 500], "grid": false, "title": null}},
       "y": {"field": "a", "type": "quantitative", "scale": {"domain": [70.57, 72.74], "range": [153, 113], "nice": false, "zero": false}, "axis": {"orient": "left", "offset": -85, "values": [71, 72], "grid": false, "title": null}},
       "color": {"field": "s", "type": "nominal", "scale": {"domain": ["FedPeWS (λ=0.1, W=25)", "FedAvg"], "range": ["#000000", "#ff0000"]}, "legend": {"title": null}}
      }}
    ]}
   ],
   "resolve": {"scale": {"x": "independent", "y": "independent"}}},
  {"width": 200, "height": 189,
   "layer": [
    {"layer": [
     {"data": {"values": [{"x0": 0, "x1": 25}]}, "mark": {"type": "rect", "color": "#bdbdbd"},
      "encoding": {"x": {"field": "x0", "type": "quantitative", "scale": {"domain": [-25, 525], "nice": false, "zero": false}, "axis": {"values": [0, 200, 400], "title": "Comm. Rounds"}}, "x2": {"field": "x1"}}},
     {"data": {"values": [{"x0": 25}]}, "mark": {"type": "rule", "color": "#000", "strokeDash": [4, 2], "strokeWidth": 1},
      "encoding": {"x": {"field": "x0", "type": "quantitative", "scale": {"domain": [-25, 525], "nice": false, "zero": false}, "axis": {"values": [0, 200, 400], "title": "Comm. Rounds"}}}},
     {"data": {"name": "acc"}, "transform": [{"filter": "datum.p === '5.0'"}, {"flatten": ["r", "a"]}],
      "mark": {"type": "line", "strokeWidth": 1.1},
      "encoding": {
       "x": {"field": "r", "type": "quantitative", "scale": {"domain": [-25, 525], "nice": false, "zero": false}, "axis": {"values": [0, 200, 400], "title": "Comm. Rounds"}},
       "y": {"field": "a", "type": "quantitative", "scale": {"domain": [0, 76], "nice": false, "zero": false}, "axis": {"values": [0, 20, 40, 60], "title": null, "labels": false}},
       "color": {"field": "s", "type": "nominal", "scale": {"domain": ["FedPeWS (λ=0.1, W=25)", "FedAvg"], "range": ["#000000", "#ff0000"]}, "legend": {"title": null}}
      }},
     {"data": {"name": "box"}, "transform": [{"filter": "datum.p === '5.0'"}],
      "mark": {"type": "rect", "fill": "transparent", "stroke": "#808080", "strokeWidth": 1},
      "encoding": {
       "x": {"field": "x0", "type": "quantitative", "scale": {"domain": [-25, 525], "nice": false, "zero": false}, "axis": {"values": [0, 200, 400], "title": "Comm. Rounds"}}, "x2": {"field": "x1"},
       "y": {"field": "y0", "type": "quantitative", "scale": {"domain": [0, 76], "nice": false, "zero": false}, "axis": {"values": [0, 20, 40, 60], "title": null, "labels": false}}, "y2": {"field": "y1"}}},
     {"data": {"name": "conn"}, "transform": [{"filter": "datum.p === '5.0'"}],
      "mark": {"type": "rule", "color": "#555555", "strokeWidth": 0.8},
      "encoding": {
       "x": {"field": "x", "type": "quantitative", "scale": {"domain": [-25, 525], "nice": false, "zero": false}, "axis": {"values": [0, 200, 400], "title": "Comm. Rounds"}}, "x2": {"field": "x2"},
       "y": {"field": "y", "type": "quantitative", "scale": {"domain": [0, 76], "nice": false, "zero": false}, "axis": {"values": [0, 20, 40, 60], "title": null, "labels": false}}, "y2": {"field": "y2"}}}
    ]},
    {"layer": [
     {"data": {"name": "box"}, "transform": [{"filter": "datum.p === '5.0'"}],
      "mark": {"type": "rect", "fill": "#ffffff", "stroke": "#000000", "strokeWidth": 0.8},
      "encoding": {
       "x": {"field": "x0", "type": "quantitative", "scale": {"domain": [450, 500], "range": [85, 185], "nice": false, "zero": false}, "axis": {"orient": "bottom", "offset": -36, "values": [450, 475, 500], "grid": false, "title": null}}, "x2": {"field": "x1"},
       "y": {"field": "y0", "type": "quantitative", "scale": {"domain": [71.02, 73.02], "range": [153, 113], "nice": false, "zero": false}, "axis": {"orient": "left", "offset": -85, "values": [72, 73], "grid": false, "title": null}}, "y2": {"field": "y1"}}},
     {"data": {"name": "ins"}, "transform": [{"filter": "datum.p === '5.0'"}, {"flatten": ["r", "a"]}],
      "mark": {"type": "line", "strokeWidth": 1.1},
      "encoding": {
       "x": {"field": "r", "type": "quantitative", "scale": {"domain": [450, 500], "range": [85, 185], "nice": false, "zero": false}, "axis": {"orient": "bottom", "offset": -36, "values": [450, 475, 500], "grid": false, "title": null}},
       "y": {"field": "a", "type": "quantitative", "scale": {"domain": [71.02, 73.02], "range": [153, 113], "nice": false, "zero": false}, "axis": {"orient": "left", "offset": -85, "values": [72, 73], "grid": false, "title": null}},
       "color": {"field": "s", "type": "nominal", "scale": {"domain": ["FedPeWS (λ=0.1, W=25)", "FedAvg"], "range": ["#000000", "#ff0000"]}, "legend": {"title": null}}
      }}
    ]}
   ],
   "resolve": {"scale": {"x": "independent", "y": "independent"}}}
 ], "spacing": 24, "bounds": "flush"}
]
}
